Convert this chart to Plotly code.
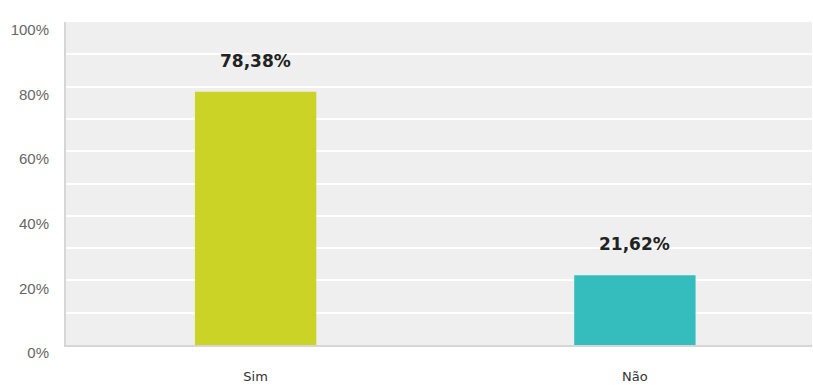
import plotly.graph_objects as go

categories = ["Sim", "Não"]
values = [78.38, 21.62]
value_labels = ["78,38%", "21,62%"]
colors = ["#CBD326", "#35BDBE"]
y_tickvals = [0, 20, 40, 60, 80, 100]
y_ticktext = ["0%", "20%", "40%", "60%", "80%", "100%"]

fig = go.Figure()
fig.add_trace(go.Bar(
    x=[0, 1], y=values, marker=dict(color=colors, line=dict(width=0)),
    width=0.32, hoverinfo="skip",
))
for i, (v, t) in enumerate(zip(values, value_labels)):
    fig.add_annotation(x=i, y=v, text="<b>" + t + "</b>", showarrow=False,
                       yanchor="bottom", yshift=19,
                       font=dict(family="DejaVu Sans", size=17, color="#222222"))

fig.update_layout(
    width=813, height=385,
    margin=dict(l=66, r=1, t=22, b=36),
    paper_bgcolor="white", plot_bgcolor="#EFEFEF",
    showlegend=False,
    xaxis=dict(
        range=[-0.5, 1.467], tickvals=[0, 1], ticktext=categories,
        showgrid=False, zeroline=False,
        showline=True, linecolor="#D6D6D6", linewidth=2,
        ticks="", ticklabelstandoff=18,
        tickfont=dict(family="DejaVu Sans", size=13, color="#333333"),
    ),
    yaxis=dict(
        range=[0, 100], tickvals=y_tickvals, ticktext=y_ticktext,
        showgrid=True, gridcolor="#FFFFFF", gridwidth=2,
        minor=dict(dtick=10, showgrid=True, gridcolor="#FFFFFF", gridwidth=2),
        zeroline=False,
        showline=True, linecolor="#D6D6D6", linewidth=2,
        ticks="", ticklabelstandoff=12, ticklabelshift=8,
        tickfont=dict(family="Liberation Sans", size=15, color="#666666"),
    ),
)
fig.write_html("out.html")
